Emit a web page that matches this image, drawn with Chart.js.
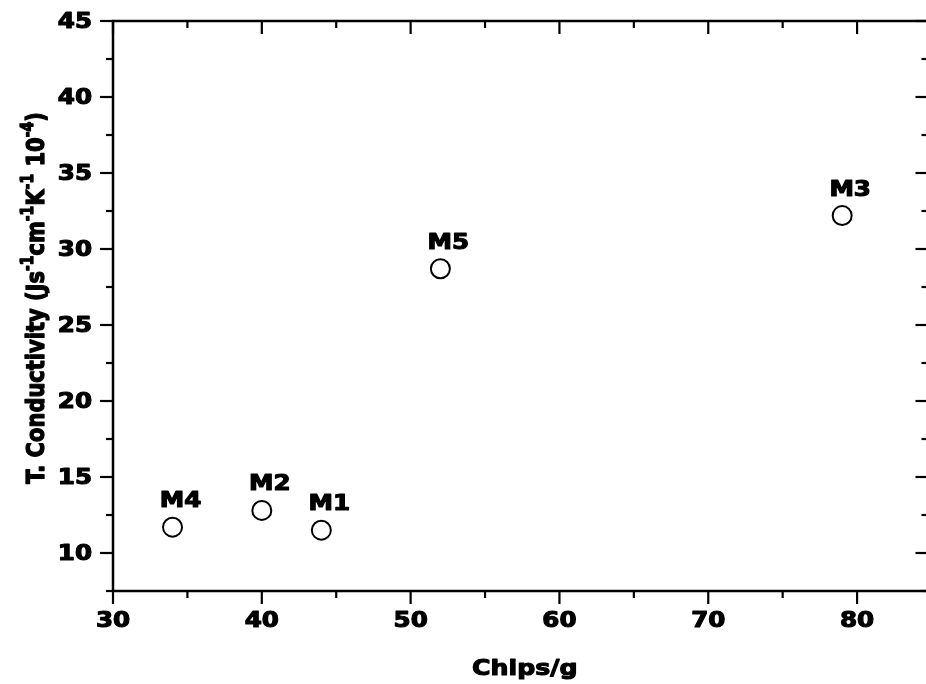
<!DOCTYPE html>
<html>
<head>
<meta charset="utf-8">
<script src="https://cdn.jsdelivr.net/npm/chart.js@4/dist/chart.umd.min.js"></script>
<style>
  html, body { margin: 0; padding: 0; background: #fff; overflow: hidden; }
  #wrap { width: 926px; height: 684px; overflow: hidden; }
  canvas { display: block; }
</style>
</head>
<body>
<div id="wrap"><canvas id="c" width="940" height="684"></canvas></div>
<script>
// Samples: chips per gram vs thermal conductivity
const sampleNames = ['M4', 'M2', 'M1', 'M5', 'M3'];
const chipsPerGram = [34, 40, 44, 52, 79];
const conductivity = [11.7, 12.8, 11.5, 28.7, 32.2];

// Axis ticks
const xTicks = [30, 40, 50, 60, 70, 80];
const xMinorTicks = [35, 45, 55, 65, 75];
const yTicks = [10, 15, 20, 25, 30, 35, 40, 45];
const yMinorTicks = [7.5, 12.5, 17.5, 22.5, 27.5, 32.5, 37.5, 42.5];

const xTitle = 'Chips/g';
// y title pieces: [text, superscript?]
const yTitleParts = [
  ['T. Conductivity (Js', false], ['-1', true], ['cm', false], ['-1', true],
  ['K', false], ['-1', true], [' 10', false], ['-4', true], [')', false]
];

const FONT = '"DejaVu Sans", "Liberation Sans", Arial, sans-serif';
const WIDEN = 1.2;          // horizontal widening of all lettering
const HEAVY = 1.1;          // extra outline to make lettering heavier
const AXIS_W = 2.5;
const MAJOR = 13, MINOR = 7;

function heavyText(ctx, text, x, y) {
  ctx.fillText(text, x, y);
  ctx.strokeText(text, x, y);
}

// draw text widened horizontally around its anchor
function wideText(ctx, text, x, y, align) {
  ctx.save();
  ctx.translate(x, y);
  ctx.scale(WIDEN, 1);
  ctx.textAlign = align;
  heavyText(ctx, text, 0, 0);
  ctx.restore();
}

// Frame, tick marks, tick labels, point labels and axis titles
const decorations = {
  id: 'decorations',
  afterDraw(chart) {
    const ctx = chart.ctx;
    const a = chart.chartArea;
    const xs = chart.scales.x, ys = chart.scales.y;
    ctx.save();
    ctx.strokeStyle = '#000';
    ctx.fillStyle = '#000';
    ctx.lineCap = 'butt';

    // frame
    ctx.lineWidth = AXIS_W;
    ctx.beginPath();
    ctx.moveTo(a.left, a.bottom); ctx.lineTo(a.left, a.top);
    ctx.lineTo(a.right, a.top); ctx.lineTo(a.right, a.bottom);
    ctx.closePath();
    ctx.stroke();

    ctx.lineWidth = 2.2;
    const tick = (x1, y1, x2, y2) => { ctx.beginPath(); ctx.moveTo(x1, y1); ctx.lineTo(x2, y2); ctx.stroke(); };
    // bottom (outward) and top (inward)
    xTicks.forEach(v => {
      const px = xs.getPixelForValue(v);
      tick(px, a.bottom, px, a.bottom + MAJOR);
      tick(px, a.top, px, a.top + MAJOR);
    });
    xMinorTicks.forEach(v => {
      const px = xs.getPixelForValue(v);
      tick(px, a.bottom, px, a.bottom + MINOR);
      tick(px, a.top, px, a.top + MINOR);
    });
    // left (outward) and right (inward)
    yTicks.forEach(v => {
      const py = ys.getPixelForValue(v);
      tick(a.left - MAJOR, py, a.left, py);
      tick(a.right - MAJOR, py, a.right, py);
    });
    yMinorTicks.forEach(v => {
      const py = ys.getPixelForValue(v);
      tick(a.left - MINOR, py, a.left, py);
      tick(a.right - MINOR, py, a.right, py);
    });

    ctx.textBaseline = 'alphabetic';
    ctx.lineWidth = HEAVY;
    ctx.lineJoin = 'round';

    // tick labels
    ctx.font = 'bold 20.5px ' + FONT;
    xTicks.forEach(v => {
      wideText(ctx, String(v), xs.getPixelForValue(v), a.bottom + 36, 'center');
    });
    yTicks.forEach(v => {
      wideText(ctx, String(v), a.left - 21, ys.getPixelForValue(v) + 7.4, 'right');
    });

    // x title
    ctx.font = 'bold 21px ' + FONT;
    wideText(ctx, xTitle, (a.left + a.right) / 2 + 4, a.bottom + 84, 'center');

    // sample labels above each marker
    ctx.font = 'bold 20.5px ' + FONT;
    const meta = chart.getDatasetMeta(0);
    meta.data.forEach((pt, i) => {
      wideText(ctx, sampleNames[i], pt.x + 8, pt.y - 20, 'center');
    });

    // y title with superscripts, rotated
    const base = 'bold 21px ' + FONT, sup = 'bold 14px ' + FONT;
    let total = 0;
    yTitleParts.forEach(([t, s]) => { ctx.font = s ? sup : base; total += ctx.measureText(t).width; });
    ctx.save();
    ctx.translate(44, (a.top + a.bottom) / 2 - 8);
    ctx.scale(WIDEN, 1);
    ctx.rotate(-Math.PI / 2);
    ctx.textAlign = 'left';
    let x = -total / 2;
    yTitleParts.forEach(([t, s]) => {
      ctx.font = s ? sup : base;
      heavyText(ctx, t, x, s ? -9 : 0);
      x += ctx.measureText(t).width;
    });
    ctx.restore();

    ctx.restore();
  }
};

new Chart(document.getElementById('c'), {
  type: 'scatter',
  data: {
    datasets: [{
      data: chipsPerGram.map((x, i) => ({ x, y: conductivity[i] })),
      pointStyle: 'circle',
      pointRadius: 9.5,
      pointHoverRadius: 9.5,
      borderColor: '#000',
      borderWidth: 2,
      backgroundColor: '#fff'
    }]
  },
  options: {
    responsive: false,
    animation: false,
    devicePixelRatio: 1,
    layout: { padding: { top: 21, right: 10, left: 0, bottom: 0 } },
    plugins: { legend: { display: false }, tooltip: { enabled: false } },
    scales: {
      x: {
        type: 'linear',
        min: 30, max: 84.8,
        afterBuildTicks: s => { s.ticks = xTicks.map(v => ({ value: v })); },
        afterFit: s => { s.height = 93; },
        grid: { display: false, drawTicks: false },
        border: { display: false },
        ticks: { display: false }
      },
      y: {
        type: 'linear',
        min: 7.5, max: 45,
        afterBuildTicks: s => { s.ticks = yTicks.map(v => ({ value: v })); },
        afterFit: s => { s.width = 113; },
        grid: { display: false, drawTicks: false },
        border: { display: false },
        ticks: { display: false }
      }
    }
  },
  plugins: [decorations]
});
</script>
</body>
</html>
